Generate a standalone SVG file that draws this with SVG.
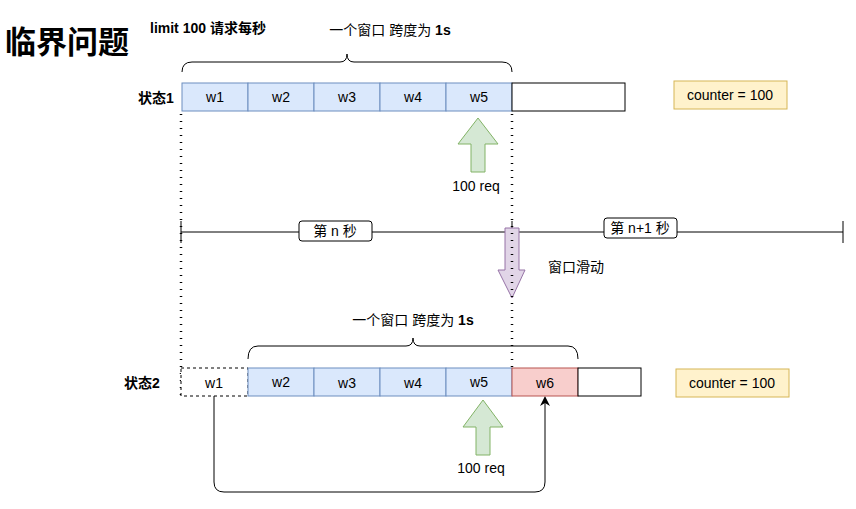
<svg xmlns="http://www.w3.org/2000/svg" width="856" height="509" viewBox="0 0 856 509">
<style>
text{font-family:"Liberation Sans","Noto Sans CJK SC",sans-serif;font-size:14px;fill:#000}
.c{text-anchor:middle}
.blue{fill:#dae8fc;stroke:#6c8ebf}
.wh{fill:#fff;stroke:#000}
.dot{stroke:#000;stroke-width:2.5;stroke-dasharray:1,6;fill:none}
.ln{stroke:#000;fill:none}
.green{fill:#d5e8d4;stroke:#82b366}
.yel{fill:#fff2cc;stroke:#d6b656}
</style>
<defs><marker id="ah" markerWidth="10" markerHeight="10" refX="8" refY="5" orient="auto" markerUnits="userSpaceOnUse"><path d="M0,0L10,5L0,10L3,5z" fill="#000"/></marker></defs>
<g id="title"><text x="5" y="53" style="font-size:31px;font-weight:bold">临界问题</text></g>
<g id="limit"><text x="150" y="33" style="font-weight:bold">limit 100 请求每秒</text></g>
<g id="span1"><text x="390" y="35" class="c">一个窗口 跨度为 <tspan font-weight="bold">1s</tspan></text>
<path class="ln" d="M182,72Q182,62 192,62L340,62Q347,62 347,54Q347,62 354,62L502,62Q512,62 512,72"/></g>
<g id="row1">
<text x="156" y="103" class="c" style="font-weight:bold">状态1</text>
<rect class="blue" x="182" y="83" width="66" height="28"/><text x="215" y="102" class="c">w1</text>
<rect class="blue" x="248" y="83" width="66" height="28"/><text x="281" y="102" class="c">w2</text>
<rect class="blue" x="314" y="83" width="66" height="28"/><text x="347" y="102" class="c">w3</text>
<rect class="blue" x="380" y="83" width="66" height="28"/><text x="413" y="102" class="c">w4</text>
<rect class="blue" x="446" y="83" width="66" height="28"/><text x="479" y="102" class="c">w5</text>
<rect class="wh" x="512" y="83" width="113" height="28"/>
</g>
<g id="counter1"><rect class="yel" x="674" y="81" width="113" height="28"/><text x="730" y="100" class="c">counter = 100</text></g>
<g id="req1"><path class="green" d="M478,118L498,144L485,144L485,172L471,172L471,144L458,144z"/><text x="476" y="191" class="c">100 req</text></g>
<g id="timeline">
<path class="ln" d="M181,232H843M181,221V243M512,221V243M843,221V243"/>
<rect class="wh" x="299" y="221" width="73" height="20" rx="3"/><text x="335" y="236" class="c">第 n 秒</text>
<rect class="wh" x="604" y="218" width="73" height="20" rx="3"/><text x="640" y="233" class="c">第 n+1 秒</text>
</g>
<g id="slide"><path d="M505,228H519V270H525L512,298L498,270H505z" fill="#e1d5e7" stroke="#9673a6"/><text x="548" y="272">窗口滑动</text></g>
<g id="connectors">
<path class="dot" d="M181,114V395"/>
<path class="dot" d="M512,114V368"/>
<path class="ln" d="M214,396V482Q214,492 224,492H535Q545,492 545,482V398" marker-end="url(#ah)"/>
</g>
<g id="span2"><text x="413" y="325" class="c">一个窗口 跨度为 <tspan font-weight="bold">1s</tspan></text>
<path class="ln" d="M248,359Q248,346 258,346L406,346Q413,346 413,338Q413,346 420,346L568,346Q578,346 578,359"/></g>
<g id="row2">
<text x="142" y="388" class="c" style="font-weight:bold">状态2</text>
<rect x="181" y="368" width="67" height="28" fill="#fff" stroke="#000" stroke-dasharray="3,3"/><text x="214" y="388" class="c">w1</text>
<rect class="blue" x="248" y="368" width="66" height="28"/><text x="281" y="387" class="c">w2</text>
<rect class="blue" x="314" y="368" width="66" height="28"/><text x="347" y="388" class="c">w3</text>
<rect class="blue" x="380" y="368" width="66" height="28"/><text x="413" y="388" class="c">w4</text>
<rect class="blue" x="446" y="368" width="66" height="28"/><text x="479" y="387" class="c">w5</text>
<rect x="512" y="368" width="66" height="28" fill="#f8cecc" stroke="#b85450"/><text x="545" y="388" class="c">w6</text>
<rect class="wh" x="578" y="368" width="63" height="28"/>
</g>
<g id="counter2"><rect class="yel" x="676" y="369" width="113" height="28"/><text x="732" y="388" class="c">counter = 100</text></g>
<g id="req2"><path class="green" d="M483,400L503,427L490,427L490,455L476,455L476,427L463,427z"/><text x="481" y="473" class="c">100 req</text></g>
</svg>
